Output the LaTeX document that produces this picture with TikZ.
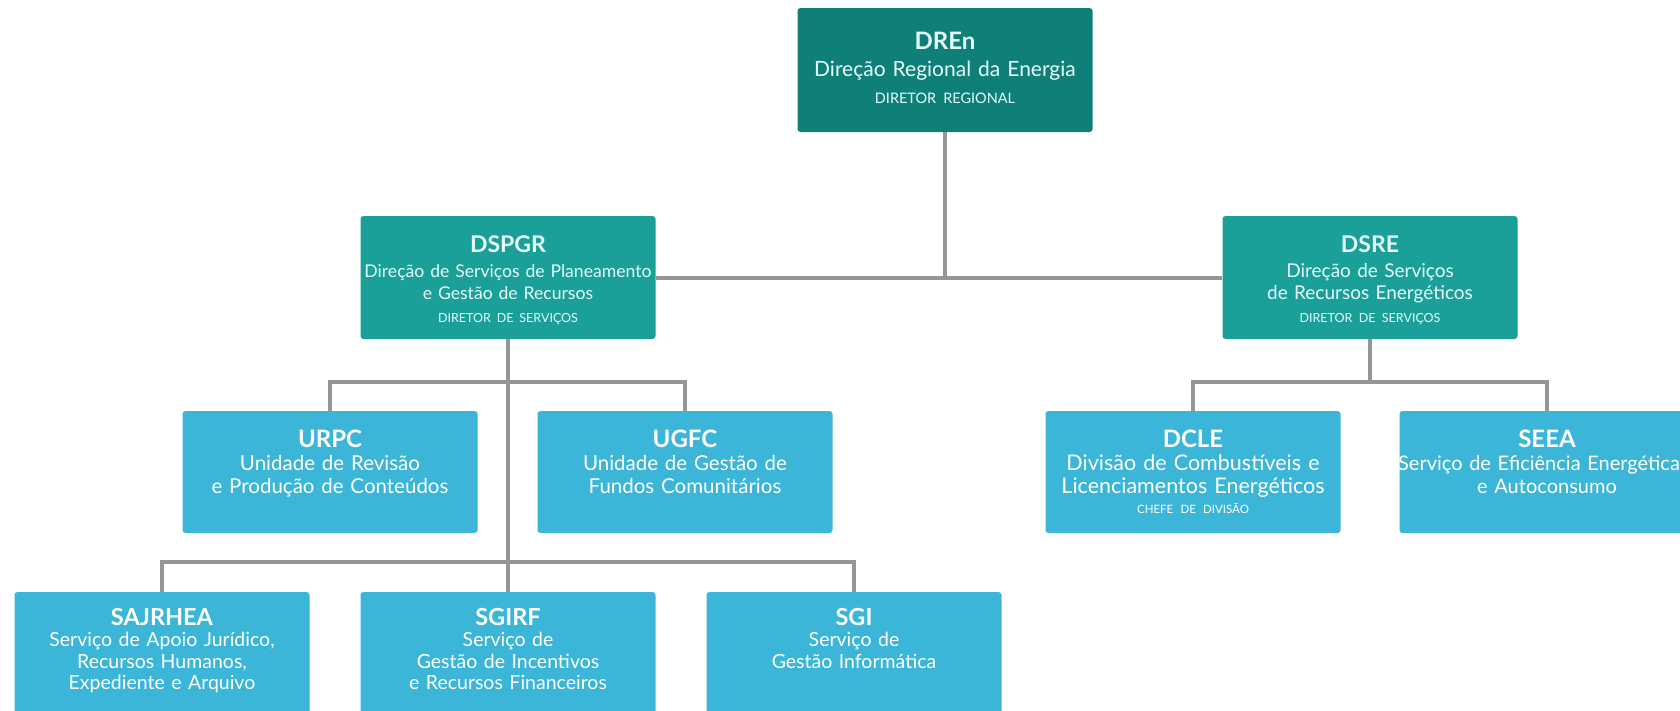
\documentclass[tikz,border=0pt]{standalone}
\usepackage{fontspec}
\setmainfont{Lato}
\usetikzlibrary{positioning}
\definecolor{dirdark}{RGB}{15,128,120}
\definecolor{dirteal}{RGB}{26,160,152}
\definecolor{unitblue}{RGB}{59,182,217}
\definecolor{linkgray}{RGB}{150,150,150}
\definecolor{tealtext}{RGB}{228,252,250}
\tikzset{every picture/.style={line width=0.75pt}}
\newcommand{\fullline}[1]{\makebox[\linewidth]{#1}}

\begin{document}
\begin{tikzpicture}[x=1pt,y=-1pt,
  box/.style={rectangle, rounded corners=3pt, text width=285pt, inner xsep=5pt, inner ysep=0pt, align=center},
  topbox/.style={box, fill=dirdark, text=tealtext, text height=41pt, text depth=83pt, font=\fontsize{21}{27}\selectfont},
  dirbox/.style={box, fill=dirteal, text=tealtext, text height=36pt, text depth=87pt, font=\fontsize{17.6}{22.5}\selectfont},
  unitbox/.style={box, fill=unitblue, text=white, text height=36pt, text depth=86pt, font=\fontsize{20.5}{23}\selectfont},
  servbox/.style={box, fill=unitblue, text=white, text height=33pt, text depth=89pt, font=\fontsize{19.5}{21.5}\selectfont},
  link/.style={draw=linkgray, line width=4pt}]
\useasboundingbox (0,0) rectangle (1680,710);
\clip (0,0) rectangle (1680,710);

%Shape: Rectangle [dren]
\node[topbox] (dren) at (945,70) {{\fontsize{24}{24}\selectfont\bfseries DREn}\\
  Direção Regional da Energia\\
  {\fontsize{14.5}{14.5}\selectfont\mbox{DIRETOR REGIONAL}}};

%Shape: Rectangle [dspgr]
\node[dirbox] (dspgr) at (508,277.5) {{\fontsize{23}{23}\selectfont\bfseries DSPGR}\\[2.5pt]
  \fullline{Direção de Serviços de Planeamento}\\
  e Gestão de Recursos\\
  {\fontsize{12.5}{12.5}\selectfont\mbox{DIRETOR DE SERVIÇOS}}};
%Shape: Rectangle [dsre]
\node[dirbox, font=\fontsize{19}{22.5}\selectfont] (dsre) at (1370,277.5) {{\fontsize{23}{23}\selectfont\bfseries DSRE}\\[2.5pt]
  Direção de Serviços\\
  de Recursos Energéticos\\
  {\fontsize{12.5}{12.5}\selectfont\mbox{DIRETOR DE SERVIÇOS}}};

%Shape: Rectangle [urpc]
\node[unitbox] (urpc) at (330,472) {{\fontsize{24}{24}\selectfont\bfseries URPC}\\
  Unidade de Revisão\\
  e Produção de Conteúdos};
%Shape: Rectangle [ugfc]
\node[unitbox] (ugfc) at (685,472) {{\fontsize{24}{24}\selectfont\bfseries UGFC}\\
  Unidade de Gestão de\\
  Fundos Comunitários};
%Shape: Rectangle [dcle]
\node[unitbox, font=\fontsize{21.5}{23}\selectfont] (dcle) at (1193,472) {{\fontsize{24}{24}\selectfont\bfseries DCLE}\\
  \fullline{Divisão de Combustíveis e}\\
  \fullline{Licenciamentos Energéticos}\\[-3pt]
  {\fontsize{11.5}{11.5}\selectfont\mbox{CHEFE DE DIVISÃO}}};
%Shape: Rectangle [seea]
\node[unitbox, font=\fontsize{20}{23}\selectfont] (seea) at (1547,472) {{\fontsize{24}{24}\selectfont\bfseries SEEA}\\
  \fullline{\hspace*{-16pt}Serviço de Eficiência Energética}\\
  e Autoconsumo};

%Shape: Rectangle [sajrhea]
\node[servbox] (sajrhea) at (162,653) {{\fontsize{23.5}{23.5}\selectfont\bfseries SAJRHEA}\\
  Serviço de Apoio Jurídico,\\
  Recursos Humanos,\\
  Expediente e Arquivo};
%Shape: Rectangle [sgirf]
\node[servbox] (sgirf) at (508,653) {{\fontsize{23.5}{23.5}\selectfont\bfseries SGIRF}\\
  Serviço de\\
  Gestão de Incentivos\\
  e Recursos Financeiros};
%Shape: Rectangle [sgi]
\node[servbox] (sgi) at (854,653) {{\fontsize{23.5}{23.5}\selectfont\bfseries SGI}\\
  Serviço de\\
  Gestão Informática};

%Straight Lines [links]
\coordinate (busl) at (508,382);
\coordinate (busr) at (1370,382);
\coordinate (busb) at (508,562);
\draw[link] (dren.south) -- (dren.south |- dspgr.east);
\draw[link] (dspgr.east) -- (dsre.west);
\draw[link] (dspgr.south) -- (sgirf.north);
\draw[link] (urpc.north) |- (busl) -| (ugfc.north);
\draw[link] (sajrhea.north) |- (busb) -| (sgi.north);
\draw[link] (dsre.south) -- (busr);
\draw[link] (dcle.north) |- (busr) -| (seea.north);

\end{tikzpicture}
\end{document}
